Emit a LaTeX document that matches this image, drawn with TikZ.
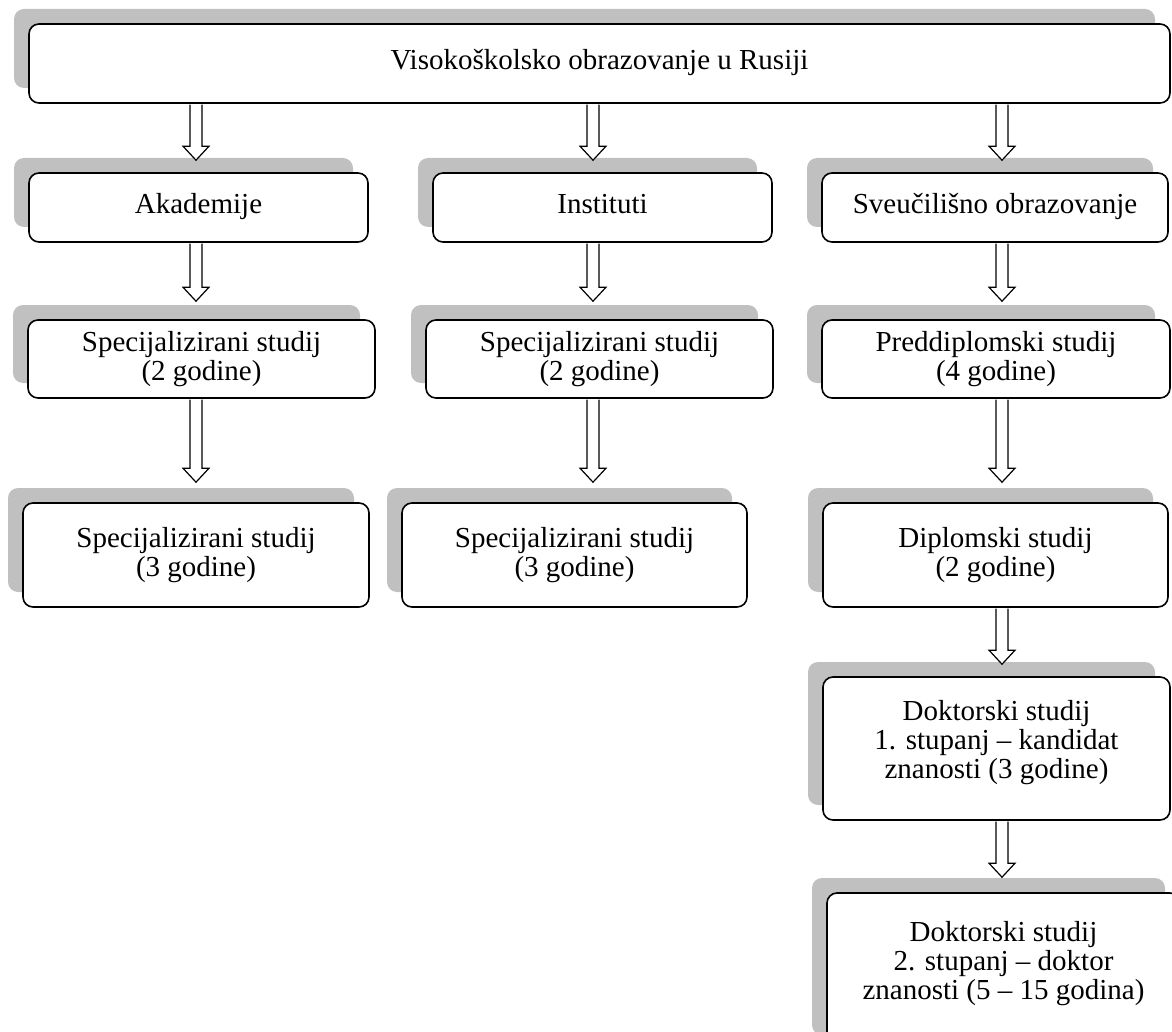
\documentclass[tikz,border=0pt]{standalone}
\usepackage{fontspec}
\setmainfont{Liberation Serif}
\usetikzlibrary{shadows,calc}
\definecolor{shadowgray}{RGB}{192,192,192}
\begin{document}
\begin{tikzpicture}[x=1pt,y=-1pt,
  boxtext/.style={align=center, inner sep=0pt, font=\fontsize{29}{29}\selectfont},
  box/.style={boxtext, draw=black, line width=1.6pt, rounded corners=10pt, fill=white,
    general shadow={fill=shadowgray, draw=none, shadow xshift=-15pt, shadow yshift=15pt}},
  oneline/.style={text height=20pt, text depth=7pt},
  blockarrow/.style={draw=black, line width=1.2pt, line join=miter, fill=white,
    to path={let \p1=(\tikztostart), \p2=(\tikztotarget) in
      (\x1-6pt,\y1-0.8pt) -- (\x1-6pt,\y2+14pt) -- (\x1-13pt,\y2+14pt) -- (\x1,\y2)
      -- (\x1+13pt,\y2+14pt) -- (\x1+6pt,\y2+14pt) -- (\x1+6pt,\y1-0.8pt)}}
]
\useasboundingbox (0,0) rectangle (1172,1032);

% boxes
\node[box, oneline, minimum width=1141pt, minimum height=79pt] (top) at (599.5,63.5) {Visokoškolsko obrazovanje u Rusiji};

\node[box, oneline, minimum width=339pt, minimum height=69pt] (ak1) at (198.5,207.5) {Akademije};
\node[box, oneline, minimum width=339pt, minimum height=69pt] (in1) at (602.5,207.5) {Instituti};
\node[box, oneline, minimum width=346pt, minimum height=69pt] (sv1) at (995,207.5) {Sveučilišno obrazovanje};

\node[box, minimum width=347pt, minimum height=78pt] (ak2) at (201.5,359) {Specijalizirani studij\\(2 godine)};
\node[box, minimum width=347pt, minimum height=78pt] (in2) at (599.5,359) {Specijalizirani studij\\(2 godine)};
\node[box, minimum width=348pt, minimum height=78pt] (pr2) at (996,359) {Preddiplomski studij\\(4 godine)};

\node[box, minimum width=346pt, minimum height=104pt] (ak3) at (196,555) {Specijalizirani studij\\(3 godine)};
\node[box, minimum width=345pt, minimum height=104pt] (in3) at (574.5,555) {Specijalizirani studij\\(3 godine)};
\node[box, minimum width=345pt, minimum height=104pt] (di3) at (995.5,555) {Diplomski studij\\(2 godine)};

\node[box, minimum width=347pt, minimum height=143pt,
  label={[boxtext, name=dk1t, yshift=6pt]center:{Doktorski studij\\1. stupanj – kandidat\\znanosti (3 godine)}}] (dk1) at (996.5,748.5) {};
\node[box, minimum width=353pt, minimum height=157pt,
  label={[boxtext, name=dk2t, yshift=8pt]center:{Doktorski studij\\2. stupanj – doktor\\znanosti (5 – 15 godina)}}] (dk2) at (1003.5,971.5) {};

% arrow columns
\coordinate (c1) at (196,0);
\coordinate (c2) at (593,0);
\coordinate (c3) at (1002,0);

\draw[blockarrow] (top.south -| c1) to ($(ak1.north -| c1)+(0,-12)$);
\draw[blockarrow] (top.south -| c2) to ($(in1.north -| c2)+(0,-12)$);
\draw[blockarrow] (top.south -| c3) to ($(sv1.north -| c3)+(0,-12)$);

\draw[blockarrow] (ak1.south -| c1) to ($(ak2.north -| c1)+(0,-18)$);
\draw[blockarrow] (in1.south -| c2) to ($(in2.north -| c2)+(0,-18)$);
\draw[blockarrow] (sv1.south -| c3) to ($(pr2.north -| c3)+(0,-18)$);

\draw[blockarrow] (ak2.south -| c1) to ($(ak3.north -| c1)+(0,-20)$);
\draw[blockarrow] (in2.south -| c2) to ($(in3.north -| c2)+(0,-20)$);
\draw[blockarrow] (pr2.south -| c3) to ($(di3.north -| c3)+(0,-20)$);

\draw[blockarrow] (di3.south -| c3) to ($(dk1.north -| c3)+(0,-12)$);
\draw[blockarrow] (dk1.south -| c3) to ($(dk2.north -| c3)+(0,-15)$);
\end{tikzpicture}
\end{document}
